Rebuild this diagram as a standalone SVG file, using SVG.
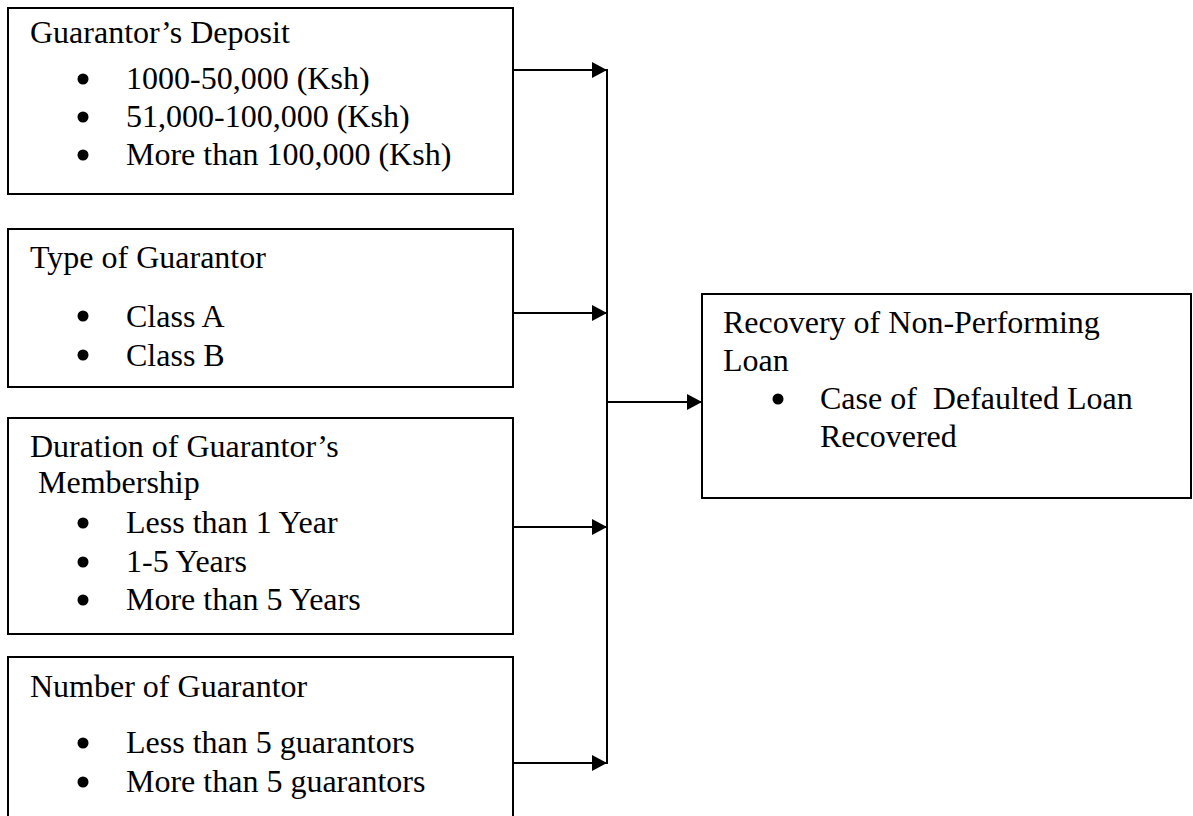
<svg xmlns="http://www.w3.org/2000/svg" width="1193" height="816" viewBox="0 0 1193 816">
<style>
.box{fill:#fff;stroke:#000;stroke-width:2}
.t{font-family:"Liberation Serif","Times New Roman",serif;font-size:32px;fill:#000}
.ln{stroke:#000;stroke-width:2;fill:none}
.dot{fill:#000}
</style>
<defs>
<marker id="ah" markerWidth="16" markerHeight="16" refX="15" refY="8" orient="auto" markerUnits="userSpaceOnUse">
<path d="M0,0 L15,8 L0,16 Z" fill="#000"/>
</marker>
</defs>
<rect width="1193" height="816" fill="#fff"/>
<g id="node-deposit">
<rect class="box" x="8" y="8" width="505" height="186"/>
<text class="t" x="30" y="43">Guarantor’s Deposit</text>
<circle class="dot" cx="83" cy="79" r="5.5"/>
<text class="t" x="126" y="89">1000-50,000 (Ksh)</text>
<circle class="dot" cx="83" cy="117" r="5.5"/>
<text class="t" x="126" y="127">51,000-100,000 (Ksh)</text>
<circle class="dot" cx="83" cy="155" r="5.5"/>
<text class="t" x="126" y="165">More than 100,000 (Ksh)</text>
</g>
<g id="node-type">
<rect class="box" x="8" y="229" width="505" height="158"/>
<text class="t" x="30" y="268">Type of Guarantor</text>
<circle class="dot" cx="83" cy="316" r="5.5"/>
<text class="t" x="126" y="327">Class A</text>
<circle class="dot" cx="83" cy="355" r="5.5"/>
<text class="t" x="126" y="366">Class B</text>
</g>
<g id="node-duration">
<rect class="box" x="8" y="418" width="505" height="216"/>
<text class="t" x="30" y="457">Duration of Guarantor’s</text>
<text class="t" x="30" y="493" xml:space="preserve"> Membership</text>
<circle class="dot" cx="83" cy="523" r="5.5"/>
<text class="t" x="126" y="533">Less than 1 Year</text>
<circle class="dot" cx="83" cy="562" r="5.5"/>
<text class="t" x="126" y="572">1-5 Years</text>
<circle class="dot" cx="83" cy="600" r="5.5"/>
<text class="t" x="126" y="610">More than 5 Years</text>
</g>
<g id="node-number">
<rect class="box" x="8" y="657" width="505" height="180"/>
<text class="t" x="30" y="697">Number of Guarantor</text>
<circle class="dot" cx="83" cy="743" r="5.5"/>
<text class="t" x="126" y="753">Less than 5 guarantors</text>
<circle class="dot" cx="83" cy="782" r="5.5"/>
<text class="t" x="126" y="792">More than 5 guarantors</text>
</g>
<g id="node-recovery">
<rect class="box" x="702" y="294" width="489" height="204"/>
<text class="t" x="723" y="333">Recovery of Non-Performing</text>
<text class="t" x="723" y="371">Loan</text>
<circle class="dot" cx="778" cy="399" r="5.5"/>
<text class="t" x="820" y="409" xml:space="preserve">Case of  Defaulted Loan</text>
<text class="t" x="820" y="447">Recovered</text>
</g>
<g id="connectors">
<line class="ln" x1="513" y1="70" x2="607" y2="70" marker-end="url(#ah)"/>
<line class="ln" x1="513" y1="313" x2="607" y2="313" marker-end="url(#ah)"/>
<line class="ln" x1="513" y1="527" x2="607" y2="527" marker-end="url(#ah)"/>
<line class="ln" x1="513" y1="763" x2="607" y2="763" marker-end="url(#ah)"/>
<line class="ln" x1="607" y1="69" x2="607" y2="764"/>
<line class="ln" x1="607" y1="402" x2="702" y2="402" marker-end="url(#ah)"/>
</g>
</svg>
